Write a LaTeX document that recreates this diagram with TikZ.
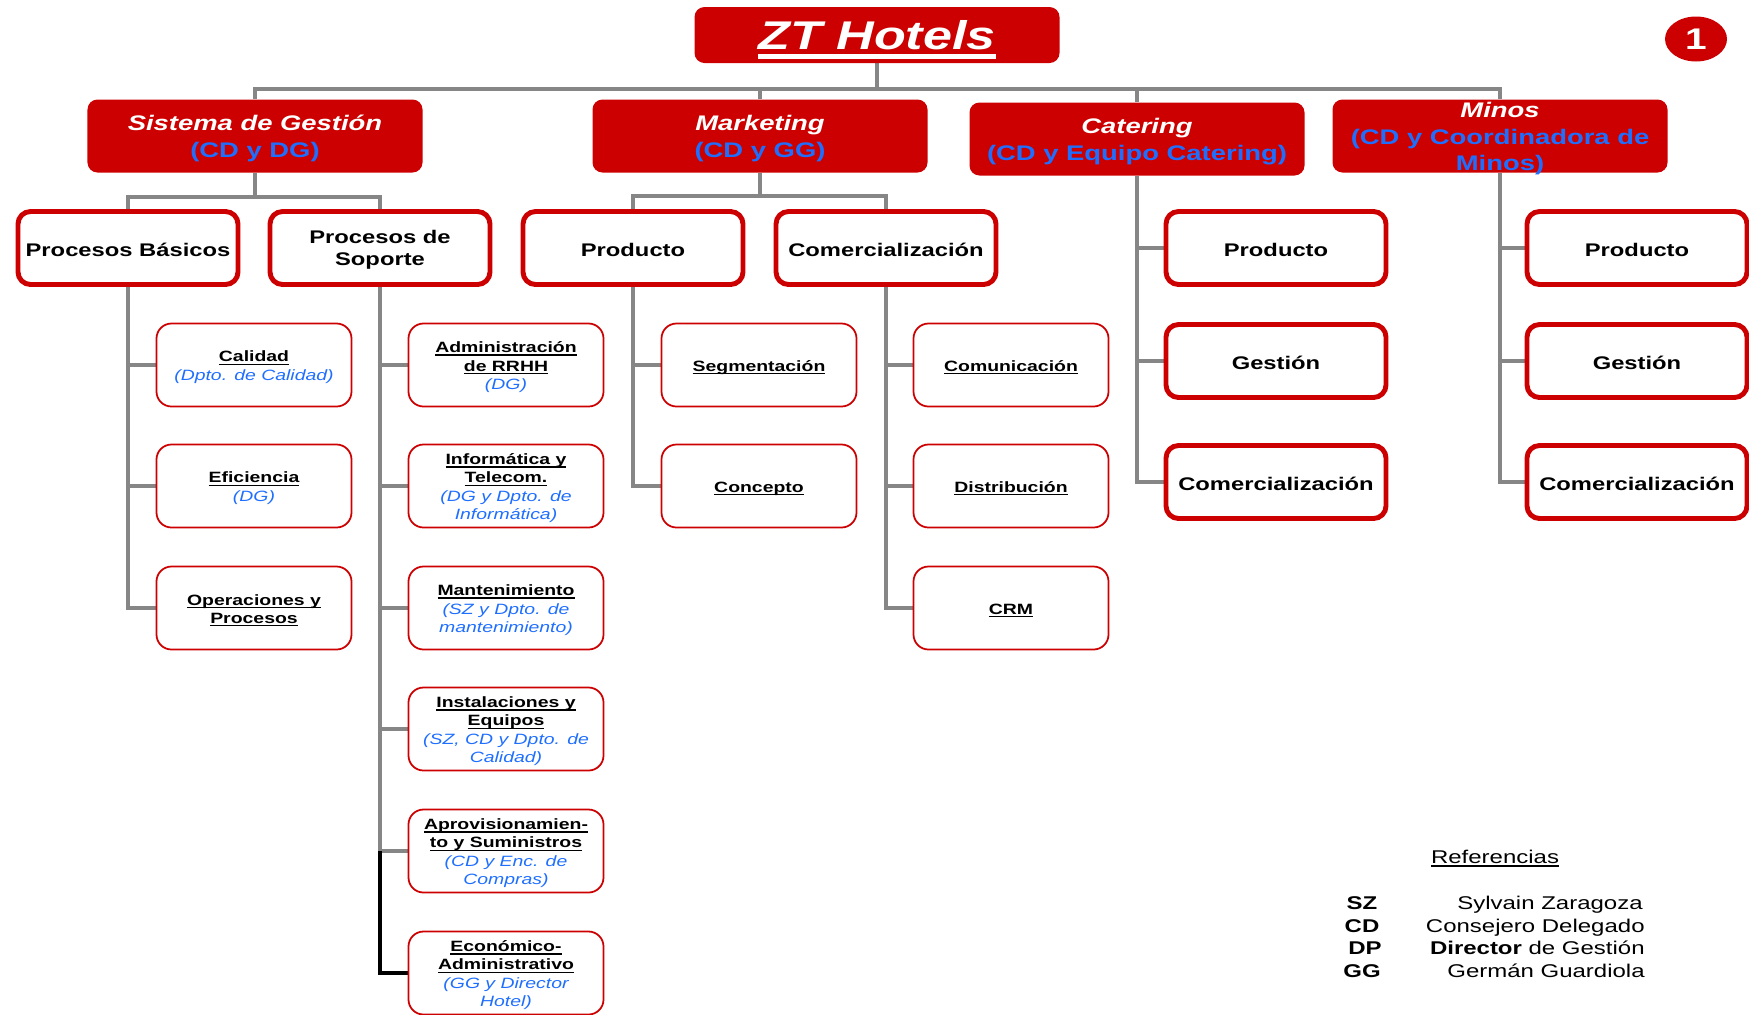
\documentclass[tikz,border=0pt]{standalone}
\usepackage{fontspec}
\setmainfont[FakeStretch=1.3]{Liberation Sans}
\usetikzlibrary{shapes.geometric, backgrounds}

\definecolor{hotred}{HTML}{CC0000}
\definecolor{linkgray}{HTML}{868686}
\definecolor{namesblue}{HTML}{1F6FFF}

% Underline with a rule of our own depth and thickness.
\newcommand{\lineunder}[3]{\setbox0\hbox{#3}\rlap{\copy0}\rule[-#1]{\wd0}{#2}}
\newcommand{\boxtitle}[1]{\textbf{\lineunder{1.6pt}{0.7pt}{#1}}}
% First line of a box, a little lower.
\newcommand{\firsttitle}[1]{\rule{0pt}{8.7pt}\boxtitle{#1}}
\newcommand{\byline}[1]{{\itshape\color{namesblue}#1}}
\newcommand{\headname}[1]{{\rule{0pt}{11.6pt}\itshape\color{white}#1}}
\newcommand{\headby}[1]{{\color{namesblue}#1}}

\begin{document}
\begin{tikzpicture}[%
        x = 0.2mm,
        y = -0.2mm,
        link/.style = {draw = linkgray, line width = 2pt},
        darklink/.style = {draw = black, line width = 2pt},
        topbox/.style = {fill = hotred, rounded corners = 2mm,
            minimum width = 73mm, minimum height = 11.2mm, inner sep = 0pt,
            text = white, font = \fontsize{22.8}{26}\selectfont\bfseries\itshape,
            execute at begin node = {\rule{0pt}{22pt}}},
        lvlone/.style = {fill = hotred, rounded corners = 2mm,
            minimum width = 67mm, minimum height = 14.6mm, inner sep = 0pt,
            align = center, font = \fontsize{12}{15.2}\selectfont\bfseries},
        lvltwo/.style = {draw = hotred, fill = white, line width = 2.8pt,
            rounded corners = 2.5mm, minimum width = 44mm, minimum height = 14.6mm,
            inner sep = 0pt, align = center,
            font = \fontsize{10.4}{12.5}\selectfont\bfseries,
            execute at begin node = {\rule{0pt}{9.3pt}}},
        lvlthree/.style = {draw = hotred, fill = white, line width = 1pt,
            rounded corners = 3mm, minimum width = 39mm, minimum height = 16.6mm,
            inner sep = 0pt, align = center, font = \fontsize{8.5}{10.4}\selectfont},
        legend/.style = {inner sep = 0pt, font = \fontsize{10.5}{12}\selectfont},
    ]

        \useasboundingbox (0, 0) rectangle (1749, 1014);

        % Head of the chart.
        \node (hotels) at (877, 35) [topbox]
            {\lineunder{5.7pt}{2.8pt}{ZT Hotels}};
        \node (num) at (1696, 39) [ellipse, fill = hotred, minimum width = 12.4mm,
            minimum height = 9mm, inner sep = 0pt, text = white,
            font = \fontsize{17}{20}\selectfont\bfseries] {1};

        % The four areas.
        \node (sg) at (255, 136) [lvlone]
            {\headname{Sistema de Gestión}\\\headby{(CD y DG)}};
        \node (mk) at (760, 136) [lvlone]
            {\headname{Marketing}\\\headby{(CD y GG)}};
        \node (cat) at (1137, 139) [lvlone]
            {\headname{Catering}\\\headby{(CD y Equipo Catering)}};
        \node (min) at (1500, 136) [lvlone, inner ysep = -1.6mm]
            {\headname{Minos}\\\headby{(CD y Coordinadora de}\\\headby{Minos)}};

        % Second level.
        \node (pb) at (128, 248) [lvltwo] {Procesos Básicos};
        \node (ps) at (380, 248) [lvltwo] {\rule{0pt}{9.3pt}Procesos de\\Soporte};
        \node (mkprod) at (633, 248) [lvltwo] {Producto};
        \node (mkcom) at (886, 248) [lvltwo] {Comercialización};
        \node (catprod) at (1276, 248) [lvltwo] {Producto};
        \node (catges) at (1276, 361) [lvltwo] {Gestión};
        \node (catcom) at (1276, 482) [lvltwo] {Comercialización};
        \node (minprod) at (1637, 248) [lvltwo] {Producto};
        \node (minges) at (1637, 361) [lvltwo] {Gestión};
        \node (mincom) at (1637, 482) [lvltwo] {Comercialización};

        % Third level, Procesos Basicos.
        \node (cal) at (254, 365) [lvlthree]
            {\firsttitle{Calidad}\\\byline{(Dpto. de Calidad)}};
        \node (efi) at (254, 486) [lvlthree]
            {\firsttitle{Eficiencia}\\\byline{(DG)}};
        \node (ope) at (254, 608) [lvlthree]
            {\firsttitle{Operaciones y}\\\boxtitle{Procesos}};

        % Third level, Procesos de Soporte.
        \node (rrhh) at (506, 365) [lvlthree]
            {\firsttitle{Administración}\\\boxtitle{de RRHH}\\\byline{(DG)}};
        \node (info) at (506, 486) [lvlthree]
            {\firsttitle{Informática y}\\\boxtitle{Telecom.}\\
             \byline{(DG y Dpto. de}\\\byline{Informática)}};
        \node (mant) at (506, 608) [lvlthree]
            {\firsttitle{Mantenimiento}\\\byline{(SZ y Dpto. de}\\
             \byline{mantenimiento)}};
        \node (inst) at (506, 729) [lvlthree]
            {\firsttitle{Instalaciones y}\\\boxtitle{Equipos}\\
             \byline{(SZ, CD y Dpto. de}\\\byline{Calidad)}};
        \node (aprov) at (506, 851) [lvlthree]
            {\firsttitle{Aprovisionamien-}\\\boxtitle{to y Suministros}\\
             \byline{(CD y Enc. de}\\\byline{Compras)}};
        \node (econ) at (506, 973) [lvlthree]
            {\firsttitle{Económico-}\\\boxtitle{Administrativo}\\
             \byline{(GG y Director}\\\byline{Hotel)}};

        % Third level, Marketing.
        \node (seg) at (759, 365) [lvlthree] {\firsttitle{Segmentación}};
        \node (conc) at (759, 486) [lvlthree] {\firsttitle{Concepto}};
        \node (comu) at (1011, 365) [lvlthree] {\firsttitle{Comunicación}};
        \node (dist) at (1011, 486) [lvlthree] {\firsttitle{Distribución}};
        \node (crm) at (1011, 608) [lvlthree] {\firsttitle{CRM}};

        % Lines from the head to the areas, behind the boxes.
        \coordinate (bus) at (877, 89);
        \begin{scope}[on background layer]
            \draw[link] (hotels.south) to (bus);
            \draw[link] (sg.north) |- (bus) -| (min.north);
            \draw[link] (mk.north) to (mk.north |- bus);
            \draw[link] (cat.north) to (cat.north |- bus);

            % Sistema de Gestion and Marketing split in two.
            \coordinate (sgbus) at (255, 197);
            \coordinate (mkbus) at (760, 196);
            \draw[link] (sg.south) to (sgbus);
            \draw[link] (pb.north) |- (sgbus) -| (ps.north);
            \draw[link] (mk.south) to (mkbus);
            \draw[link] (mkprod.north) |- (mkbus) -| (mkcom.north);

            % Catering and Minos trunks.
            \draw[link] (cat.south) |- (catcom.west);
            \draw[link] (catprod.west) to (catprod.west -| cat.south);
            \draw[link] (catges.west) to (catges.west -| cat.south);
            \draw[link] (min.south) |- (mincom.west);
            \draw[link] (minprod.west) to (minprod.west -| min.south);
            \draw[link] (minges.west) to (minges.west -| min.south);

            % Trunks to the third level.
            \draw[link] (pb.south) |- (ope.west);
            \draw[link] (cal.west) to (cal.west -| pb.south);
            \draw[link] (efi.west) to (efi.west -| pb.south);
            \draw[link] (ps.south) |- (aprov.west);
            \foreach \n in {rrhh, info, mant, inst}
                \draw[link] (\n.west) to (\n.west -| ps.south);
            \draw[darklink] (aprov.west -| ps.south) |- (econ.west);
            \draw[link] (mkprod.south) |- (conc.west);
            \draw[link] (seg.west) to (seg.west -| mkprod.south);
            \draw[link] (mkcom.south) |- (crm.west);
            \draw[link] (comu.west) to (comu.west -| mkcom.south);
            \draw[link] (dist.west) to (dist.west -| mkcom.south);
        \end{scope}

        % Legend.
        \node (ref) at (1495, 863) [legend, anchor = base]
            {\lineunder{2pt}{0.6pt}{Referencias}};
        \node (sz) at (1362, 909) [legend, anchor = base] {\textbf{SZ}};
        \node (cd) at (1362, 932) [legend, anchor = base] {\textbf{CD}};
        \node (dp) at (1365, 954) [legend, anchor = base] {\textbf{DP}};
        \node (gg) at (1362, 977) [legend, anchor = base] {\textbf{GG}};
        \node (szname) at (1643, 909) [legend, anchor = base east]
            {Sylvain Zaragoza};
        \node (cdname) at (1645, 932) [legend, anchor = base east]
            {Consejero Delegado};
        \node (dpname) at (1645, 954) [legend, anchor = base east]
            {\textbf{Director} de Gestión};
        \node (ggname) at (1645, 977) [legend, anchor = base east]
            {Germán Guardiola};
    \end{tikzpicture}
\end{document}
